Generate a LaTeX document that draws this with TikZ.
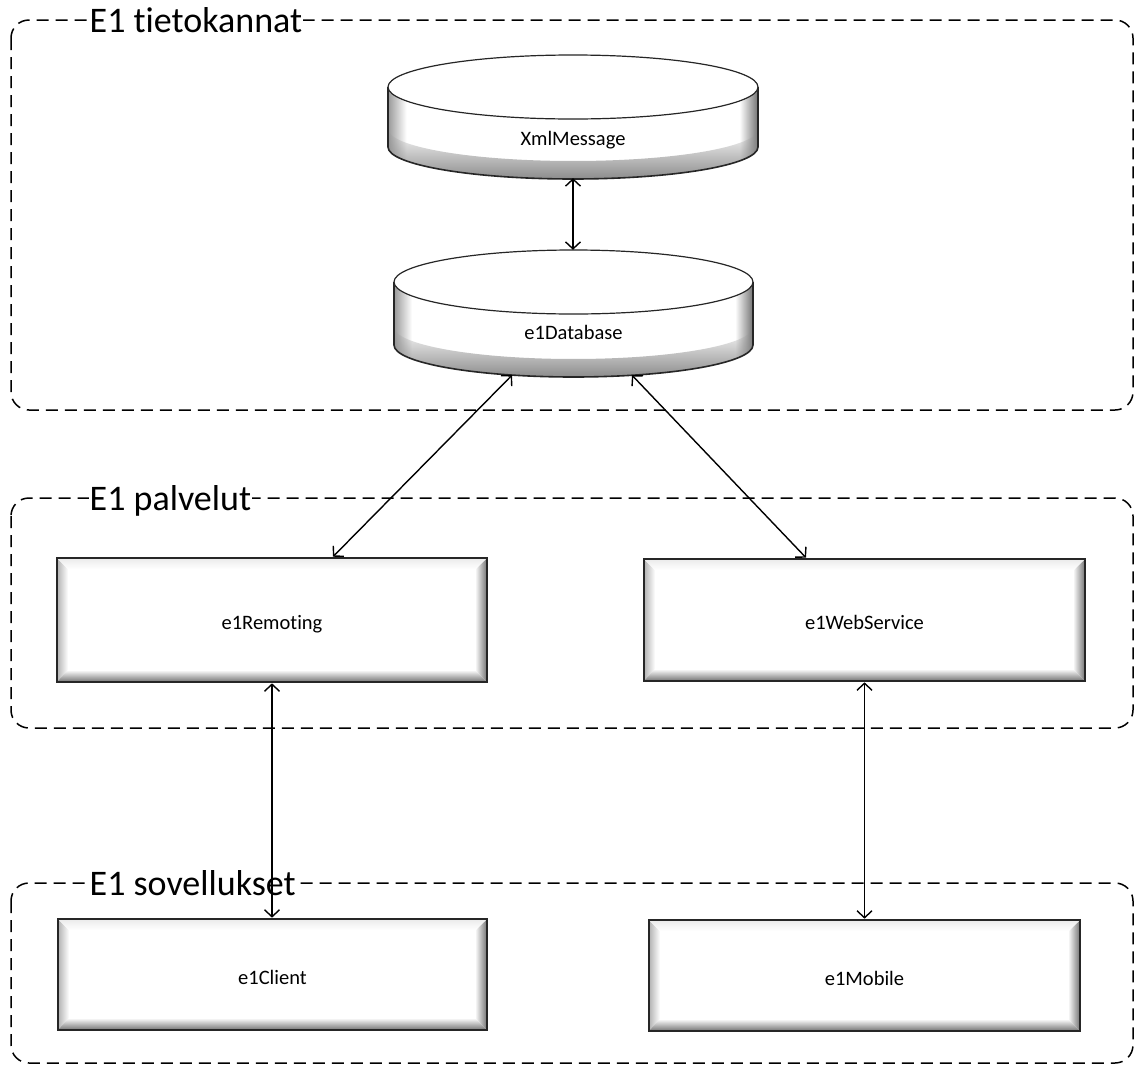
\documentclass[tikz,border=0pt]{standalone}
\usepackage{fontspec}
\setmainfont{Carlito}[Ligatures=NoCommon,RawFeature=-liga]
\usetikzlibrary{arrows.meta,calc,backgrounds,fadings}

\pgfdeclarehorizontalshading{cylside}{100bp}{color(0bp)=(black!40); color(25bp)=(black!40); color(27.5bp)=(white); color(72.5bp)=(white); color(75bp)=(black!55); color(100bp)=(black!55)}
\tikzfading[name=bandfade, top color=transparent!100, bottom color=transparent!0]

% cylinder: #1 cx, #2 rx, #3 top ellipse cy, #4 ry, #5 bottom ellipse cy
\newcommand\drawcyl[5]{%
  \shade[shading=cylside] (#1-#2,#3) -- (#1-#2,#5) arc[start angle=180,end angle=360,x radius=#2pt,y radius=#4pt] -- (#1+#2,#3) -- cycle;
  \fill[black!45,path fading=bandfade] (#1-#2,#5-18) -- (#1-#2,#5) arc[start angle=180,end angle=360,x radius=#2pt,y radius=#4pt] -- (#1+#2,#5-18) arc[start angle=0,end angle=-180,x radius=#2pt,y radius=#4pt] -- cycle;
  \draw[cylline] (#1-#2,#3) -- (#1-#2,#5) arc[start angle=180,end angle=360,x radius=#2pt,y radius=#4pt] -- (#1+#2,#3);
  \filldraw[cylline,line width=1.2pt,fill=white] (#1,#3) ellipse [x radius=#2pt,y radius=#4pt];
}

\begin{document}
\begin{tikzpicture}[x=1pt,y=-1pt,
  group/.style={draw=black,line width=1.5pt,dash pattern=on 12pt off 7pt,rounded corners=18pt},
  grouplabel/.style={fill=white,inner sep=0.5pt,anchor=base west,font=\fontsize{36}{40}\selectfont},
  itemfont/.style={font=\fontsize{20.5}{24}\selectfont},
  cylline/.style={draw=black!85,line width=1.6pt},
  dbnode/.style={rectangle,draw=none,itemfont,inner sep=0pt,text depth=3pt},
  bevelbox/.style={rectangle,draw=black!85,line width=2.6pt,fill=white,itemfont,inner sep=0pt,
    text height=21pt,text depth=2pt,
    path picture={
      \coordinate (pSW) at (path picture bounding box.south west);
      \coordinate (pNE) at (path picture bounding box.north east);
      \coordinate (pNW) at (path picture bounding box.north west);
      \coordinate (pSE) at (path picture bounding box.south east);
      \shade[left color=black!30,right color=white] (pSW) -- (pNW) -- ($(pNW)+(11pt,-11pt)$) -- ($(pSW)+(11pt,11pt)$) -- cycle;
      \shade[left color=white,right color=black!55] (pSE) -- (pNE) -- ($(pNE)+(-12pt,-12pt)$) -- ($(pSE)+(-12pt,12pt)$) -- cycle;
      \shade[top color=white,bottom color=black!55] (pSW) -- (pSE) -- ($(pSE)+(-12pt,12pt)$) -- ($(pSW)+(11pt,12pt)$) -- cycle;
      \shade[top color=black!8,bottom color=white] (pNW) -- (pNE) -- ($(pNE)+(-12pt,-11pt)$) -- ($(pNW)+(11pt,-11pt)$) -- cycle;
    }},
  conn/.style={{Straight Barb[length=7pt,width=15pt]}-{Straight Barb[length=7pt,width=15pt]},line width=1.4pt},
]
\useasboundingbox (0,0) rectangle (1136,1066);

% groups
\draw[group] (11,20) rectangle (1133,410);
\draw[group] (11,498) rectangle (1133,728);
\draw[group] (11,883) rectangle (1133,1063);
\node[grouplabel] (g1) at (89,32) {E1 tietokannat};
\node[grouplabel] (g2) at (89,510) {E1 palvelut};
\node[grouplabel] (g3) at (89,895) {E1 sovellukset};

% databases
\node[dbnode,minimum width=370pt,minimum height=123pt,text height=60pt] (xml) at (573,116.5) {XmlMessage};
\node[dbnode,minimum width=359pt,minimum height=127pt,text height=54pt] (db) at (573.5,313.5) {e1Database};
\begin{scope}[on background layer]
  \fill[white] (0,0) rectangle (1136,1066);
  \drawcyl{573}{185}{87}{32}{147}{31}
  \drawcyl{573.5}{179.5}{282}{32}{345}{32}
\end{scope}

% boxes
\node[bevelbox,minimum width=430pt,minimum height=124pt] (remoting) at (272,620) {e1Remoting};
\node[bevelbox,minimum width=441pt,minimum height=122pt] (webservice) at (864.5,620) {e1WebService};
\node[bevelbox,minimum width=429pt,minimum height=111pt] (client) at (272.5,974.5) {e1Client};
\node[bevelbox,minimum width=431pt,minimum height=111pt] (mobile) at (864.5,975.5) {e1Mobile};

% connector end points
\coordinate (dbL) at ($(db.south)+(-61.5pt,2pt)$);
\coordinate (dbR) at ($(db.south)+(58.5pt,2pt)$);
\coordinate (remN) at ($(remoting.north)+(61pt,0pt)$);
\coordinate (wsN) at ($(webservice.north)+(-58.5pt,0pt)$);

% connectors
\draw[conn] (xml.south) -- (xml.south |- db.north);
\draw[conn] (dbL) -- (remN);
\draw[conn] (dbR) -- (wsN);
\draw[conn] (remoting.south) -- (remoting.south |- client.north);
\draw[conn] (webservice.south) -- (webservice.south |- mobile.north);
\end{tikzpicture}
\end{document}
